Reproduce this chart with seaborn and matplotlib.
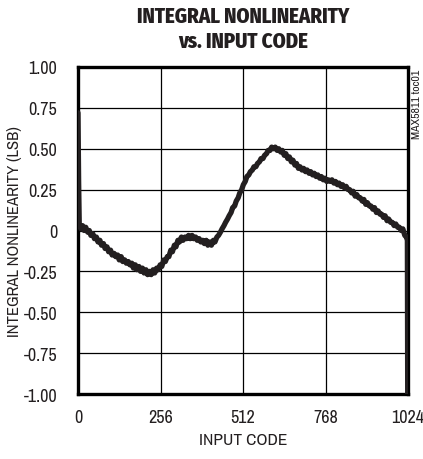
import matplotlib
matplotlib.use("Agg")
import matplotlib.pyplot as plt
from matplotlib import font_manager
import pandas as pd
import seaborn as sns

input_code = [
    0, 2, 4, 9, 14, 19, 24, 30, 35, 40, 46, 51, 57, 62, 68, 73, 79, 84, 90, 95,
    101, 106, 112, 117, 123, 128, 134, 139, 145, 150, 156, 161, 167, 172, 178,
    183, 189, 194, 200, 205, 211, 216, 222, 227, 233, 238, 244, 249, 255, 260,
    266, 271, 277, 282, 288, 293, 299, 304, 310, 315, 321, 326, 332, 337, 343,
    348, 354, 359, 365, 370, 376, 381, 387, 392, 398, 403, 409, 414, 420, 425,
    431, 436, 442, 447, 453, 458, 464, 469, 475, 480, 486, 491, 497, 502, 508,
    513, 519, 524, 530, 535, 541, 546, 552, 557, 563, 568, 574, 579, 585, 590,
    596, 601, 607, 612, 618, 623, 629, 634, 640, 645, 651, 656, 662, 667, 673,
    678, 684, 689, 695, 700, 706, 711, 717, 722, 728, 733, 739, 744, 750, 755,
    761, 766, 772, 777, 783, 788, 794, 799, 805, 810, 816, 821, 827, 832, 838,
    843, 849, 854, 860, 865, 871, 876, 882, 887, 893, 898, 904, 909, 915, 920,
    926, 931, 937, 942, 948, 953, 959, 964, 970, 975, 981, 986, 992, 997, 1003,
    1008, 1014, 1019, 1022, 1023,
]
inl_lsb = [
    0.72, 0.30, 0.03, 0.01, 0.03, 0.00, 0.02, -0.01, 0.00, -0.03, -0.02, -0.05,
    -0.04, -0.07, -0.06, -0.09, -0.08, -0.11, -0.10, -0.13, -0.12, -0.15, -0.14,
    -0.16, -0.15, -0.18, -0.16, -0.19, -0.18, -0.20, -0.19, -0.21, -0.20, -0.23,
    -0.21, -0.24, -0.22, -0.25, -0.23, -0.26, -0.24, -0.27, -0.25, -0.27, -0.24,
    -0.26, -0.23, -0.24, -0.21, -0.22, -0.18, -0.19, -0.16, -0.16, -0.12, -0.13,
    -0.09, -0.10, -0.06, -0.07, -0.04, -0.06, -0.04, -0.05, -0.03, -0.05, -0.03,
    -0.05, -0.04, -0.06, -0.05, -0.07, -0.06, -0.08, -0.06, -0.09, -0.07, -0.09,
    -0.06, -0.07, -0.04, -0.03, -0.01, 0.01, 0.03, 0.05, 0.07, 0.09, 0.11, 0.14,
    0.15, 0.18, 0.20, 0.23, 0.25, 0.28, 0.30, 0.33, 0.34, 0.36, 0.37, 0.39, 0.39,
    0.41, 0.42, 0.44, 0.44, 0.46, 0.47, 0.49, 0.49, 0.51, 0.50, 0.51, 0.49, 0.50,
    0.48, 0.49, 0.46, 0.47, 0.44, 0.45, 0.42, 0.43, 0.40, 0.41, 0.38, 0.39, 0.37,
    0.38, 0.36, 0.37, 0.35, 0.36, 0.34, 0.35, 0.33, 0.34, 0.32, 0.33, 0.31, 0.32,
    0.30, 0.31, 0.30, 0.31, 0.29, 0.30, 0.28, 0.29, 0.27, 0.28, 0.26, 0.27, 0.25,
    0.25, 0.23, 0.24, 0.21, 0.22, 0.20, 0.20, 0.18, 0.19, 0.16, 0.17, 0.15, 0.15,
    0.13, 0.14, 0.11, 0.12, 0.10, 0.10, 0.08, 0.09, 0.06, 0.07, 0.05, 0.05, 0.03,
    0.04, 0.02, 0.02, 0.00, 0.01, -0.03, -0.04, -0.06, -1.00,
]

x_ticks = [0, 256, 512, 768, 1024]
y_ticks = [1.00, 0.75, 0.50, 0.25, 0, -0.25, -0.50, -0.75, -1.00]
y_tick_labels = ["1.00", "0.75", "0.50", "0.25", "0", "-0.25", "-0.50", "-0.75", "-1.00"]

sns.set_theme(style="white")
installed = {f.name for f in font_manager.fontManager.ttflist}


def pick(*names):
    for n in names:
        if n in installed:
            return n
    return "DejaVu Sans"


body_font = pick("Archivo Narrow", "Liberation Sans Narrow", "Fira Sans Condensed", "Barlow Condensed")
title_font = pick("Fira Sans Condensed", "Barlow Condensed", "Archivo Narrow")
plt.rcParams["font.family"] = [body_font, "DejaVu Sans"]

ink = "#231f20"
df = pd.DataFrame({"code": input_code, "inl": inl_lsb})

fig = plt.figure(figsize=(4.23, 4.60), dpi=100)
ax = fig.add_axes([78 / 423, 1 - 395 / 460, 330 / 423, 327 / 460])

sns.lineplot(data=df, x="code", y="inl", sort=False, estimator=None,
             color=ink, linewidth=3.8, ax=ax, zorder=3)

ax.set_xlim(0, 1024)
ax.set_ylim(-1.0, 1.0)
ax.set_xticks(x_ticks)
ax.set_xticklabels([str(t) for t in x_ticks])
ax.set_yticks(y_ticks)
ax.set_yticklabels(y_tick_labels)
ax.grid(True, color="black", linewidth=0.9)
ax.tick_params(axis="both", length=0, labelsize=13, colors=ink)
ax.tick_params(axis="x", pad=11)
ax.tick_params(axis="y", pad=15)
for s in ax.spines.values():
    s.set_visible(True)
    s.set_color("black")
    s.set_linewidth(2.4)

ax.set_xlabel("INPUT CODE", fontsize=12.5, color=ink, labelpad=5)
ax.set_ylabel("INTEGRAL NONLINEARITY (LSB)", fontsize=12, color=ink)
ax.yaxis.set_label_coords(-56 / 330, 0.5)

# title sits centred over the plotting area
title_x = 243 / 423
fig.text(title_x, 1 - 17 / 460, "INTEGRAL NONLINEARITY", ha="center", va="center",
         fontsize=15, fontweight=800, family=[title_font, "DejaVu Sans"], color=ink)
fig.text(title_x, 1 - 42 / 460, "vs. INPUT CODE", ha="center", va="center",
         fontsize=15, fontweight=800, family=[title_font, "DejaVu Sans"], color=ink)
fig.text(417 / 423, 1 - 70 / 460, "MAX5811 toc01", rotation=90, ha="center", va="top",
         fontsize=8.5, color=ink)

fig.savefig("out.png", dpi=100, facecolor="white")
